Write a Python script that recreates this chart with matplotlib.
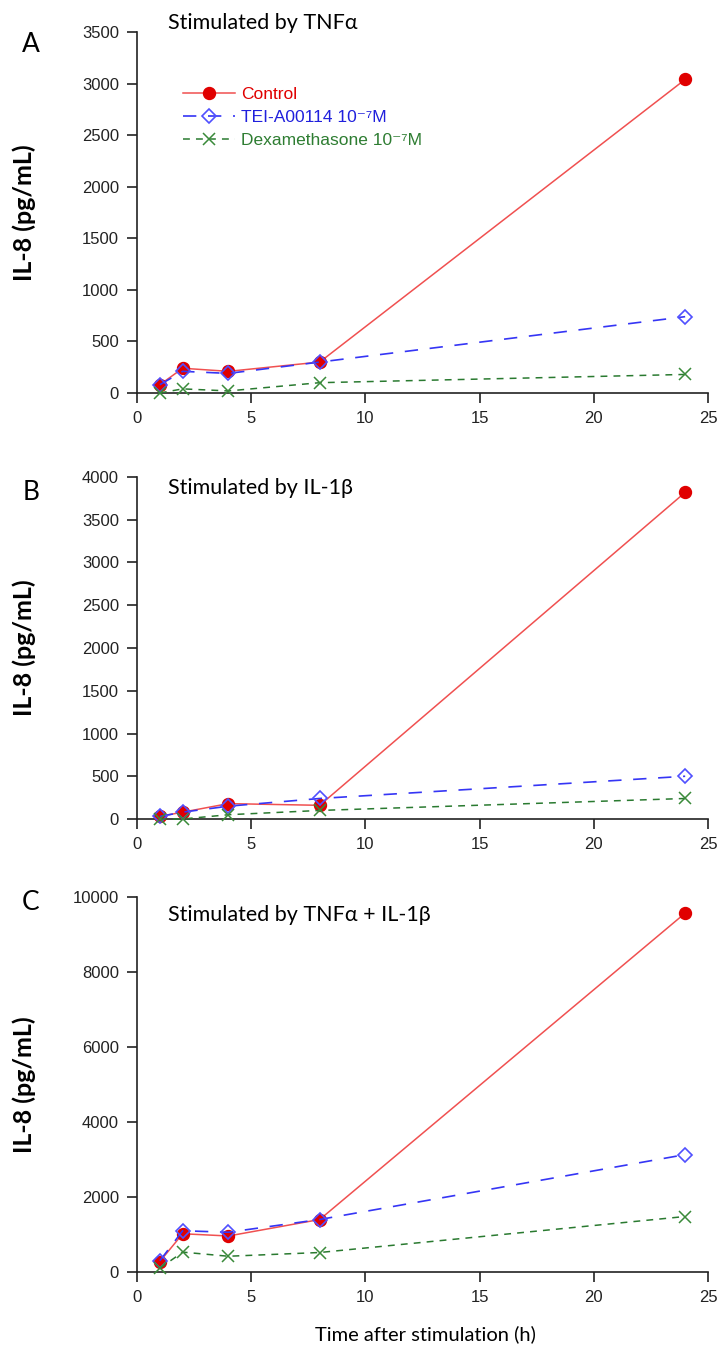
import matplotlib
matplotlib.use("Agg")
import matplotlib.pyplot as plt

time_h = [1, 2, 4, 8, 24]

a_control = [80, 240, 210, 300, 3040]
a_tei = [80, 210, 190, 300, 740]
a_dex = [0, 40, 20, 100, 180]

b_control = [30, 80, 180, 160, 3820]
b_tei = [30, 80, 150, 240, 500]
b_dex = [0, 0, 50, 100, 240]

c_control = [280, 1020, 960, 1400, 9570]
c_tei = [300, 1100, 1060, 1400, 3130]
c_dex = [100, 530, 420, 520, 1480]

series_labels = ["Control", "TEI-A00114 10⁻⁷M", "Dexamethasone 10⁻⁷M"]
panel_letters = ["A", "B", "C"]
panel_titles = ["Stimulated by TNFα", "Stimulated by IL-1β", "Stimulated by TNFα + IL-1β"]
y_limits = [3500, 4000, 10000]
y_steps = [500, 500, 2000]
x_ticks = [0, 5, 10, 15, 20, 25]

W, H = 722, 1350
fig = plt.figure(figsize=(W / 100, H / 100), dpi=100)

# (pixel y of zero, pixel y of ymax)
panel_px = [(393, 32), (819, 477), (1272, 897)]
title_y = [23, 488, 915]
letter_y = [45, 493, 902]
x0_px, x1_px = 137, 708

data = [(a_control, a_tei, a_dex), (b_control, b_tei, b_dex), (c_control, c_tei, c_dex)]

red_line = "#f05050"
red_mk = "#e00000"
blue = "#3535f5"
green = "#2a7a30"
sans = ["Liberation Sans", "DejaVu Sans"]

for i, ((ctrl, tei, dex), (yb, yt)) in enumerate(zip(data, panel_px)):
    ax = fig.add_axes([x0_px / W, 1 - yb / H, (x1_px - x0_px) / W, (yb - yt) / H])
    ax.plot(time_h, ctrl, color=red_line, lw=1.1, marker="o", ms=8.6,
            mfc=red_mk, mec=red_mk, label=series_labels[0], clip_on=False, zorder=3)
    ax.plot(time_h, tei, color=blue, lw=1.2, dashes=(8, 7), marker="D", ms=7,
            mfc="none", mec="#5050ff", mew=1.2, label=series_labels[1], clip_on=False, zorder=4)
    ax.plot(time_h, dex, color=green, lw=1.1, dashes=(4.5, 4), marker="x", ms=8,
            mec="#3a8a3a", mew=1.1, label=series_labels[2], clip_on=False, zorder=5)
    ax.set_xlim(0, 25)
    ax.set_ylim(0, y_limits[i])
    ax.set_xticks(x_ticks)
    ax.set_yticks(list(range(0, y_limits[i] + 1, y_steps[i])))
    for s in ["top", "right"]:
        ax.spines[s].set_visible(False)
    for s in ["left", "bottom"]:
        ax.spines[s].set_linewidth(1.2)
        ax.spines[s].set_color("#222222")
    ax.tick_params(direction="out", length=7, width=1.2, color="#222222",
                   labelsize=12, pad=6)
    for lab in ax.get_xticklabels() + ax.get_yticklabels():
        lab.set_fontfamily(sans)
        lab.set_color("#222222")
    fig.text(24 / W, 1 - ((yb + yt) / 2) / H, "IL-8 (pg/mL)", rotation=90,
             fontsize=18, fontfamily="Lato", fontweight="bold", va="center", ha="center")
    fig.text(31 / W, 1 - letter_y[i] / H, panel_letters[i], fontsize=19,
             fontfamily="Lato", va="center", ha="center")
    fig.text(168 / W, 1 - title_y[i] / H, panel_titles[i], fontsize=15.5,
             fontfamily="Lato", va="center", ha="left")
    if i == 0:
        leg = ax.legend(loc="upper left", bbox_to_anchor=(183 / W, 1 - 87 / H),
                        bbox_transform=fig.transFigure, frameon=False,
                        handlelength=3.0, prop={"family": sans, "size": 12.5},
                        labelspacing=0.45, handletextpad=0.35, borderaxespad=0, borderpad=0)
        for t, c in zip(leg.get_texts(), [red_mk, "#2020dd", "#2e7d32"]):
            t.set_color(c)

fig.text(425 / W, 1 - 1334 / H, "Time after stimulation (h)", fontsize=14.5,
         fontfamily="Lato", va="center", ha="center")

fig.savefig("out.png", dpi=100)
